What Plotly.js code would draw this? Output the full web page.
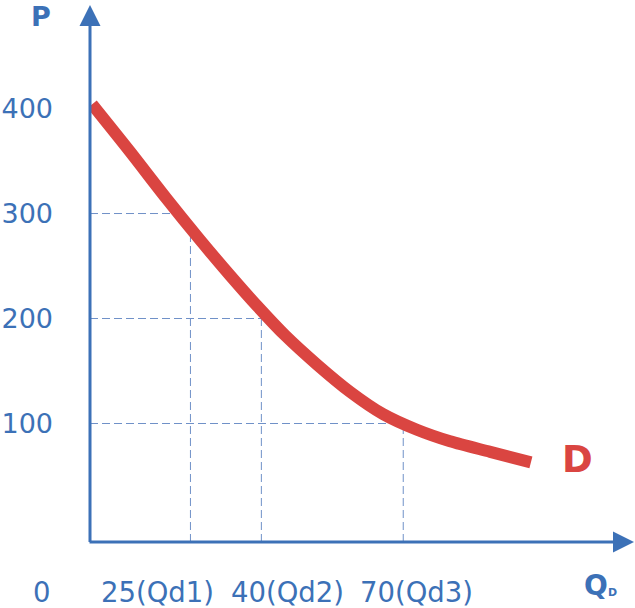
<!DOCTYPE html>
<html>
<head>
<meta charset="utf-8">
<script src="https://cdn.plot.ly/plotly-3.0.1.min.js"></script>
<style>html,body{margin:0;padding:0;background:#fff;}#chart{width:635px;height:608px;}</style>
</head>
<body>
<div id="chart"></div>
<script>
// Demand curve D (Q = quantity demanded, P = price)
var curveQ = [4.2, 12.2, 19.8, 27.0, 33.4, 39.1, 45.0, 51.8, 58.8, 65.7, 72.9, 79.9, 88.4, 97.0];
var curveP = [404, 359, 315, 275, 241, 212, 184, 156, 130, 109, 94, 83, 73, 63];

// Marked price / quantity pairs
var markP = [300, 200, 100];
var markQ = [25, 40, 70];
var markNames = ['Qd1', 'Qd2', 'Qd3'];

// Axis tick labels
var yTickVals = [100, 200, 300, 400];
var yTickText = ['100', '200', '300', '400'];
var originLabel = '0';
var curveLabel = 'D';
var yTitle = 'P';
var xTitle = 'Q';
var xTitleSub = 'D';

var BLUE = '#3c71b7';
var RED = '#da4541';
var DASH = 'rgb(112,145,200)';
var FONT = 'DejaVu Sans, Verdana, sans-serif';

// linear interpolation on the curve (for where the guide lines meet it)
function pAtQ(q) {
  for (var i = 0; i < curveQ.length - 1; i++) {
    if (q >= curveQ[i] && q <= curveQ[i + 1]) {
      var t = (q - curveQ[i]) / (curveQ[i + 1] - curveQ[i]);
      return curveP[i] + t * (curveP[i + 1] - curveP[i]);
    }
  }
  return curveP[curveP.length - 1];
}
function qAtP(p) {
  for (var i = 0; i < curveP.length - 1; i++) {
    if (p <= curveP[i] && p >= curveP[i + 1]) {
      var t = (curveP[i] - p) / (curveP[i] - curveP[i + 1]);
      return curveQ[i] + t * (curveQ[i + 1] - curveQ[i]);
    }
  }
  return curveQ[curveQ.length - 1];
}

var xRange = [3.76, 118.8];
var yRange = [-12.86, 498.6];

var traces = [];
for (var i = 0; i < markP.length; i++) {
  traces.push({
    x: [xRange[0], qAtP(markP[i])], y: [markP[i], markP[i]],
    mode: 'lines', line: {color: DASH, width: 1, dash: '8px,4px'},
    hoverinfo: 'skip', showlegend: false
  });
  traces.push({
    x: [markQ[i], markQ[i]], y: [yRange[0], pAtQ(markQ[i])],
    mode: 'lines', line: {color: DASH, width: 1, dash: '8px,4px'},
    hoverinfo: 'skip', showlegend: false
  });
}
traces.push({
  x: curveQ, y: curveP, mode: 'lines',
  line: {color: RED, width: 12, shape: 'spline', smoothing: 0.8},
  hoverinfo: 'skip', showlegend: false
});

var L = 90, R = 1, T = 5, B = 66, W = 635, H = 608;
var pw = W - L - R, ph = H - T - B;
function px(x) { return (x - L) / pw; }
function py(y) { return (H - B - y) / ph; }

var annotations = [];
// axes with arrows
annotations.push({xref: 'paper', yref: 'paper', x: 0, y: 1, ax: 0, ay: ph + 1.5, axref: 'pixel', ayref: 'pixel',
  text: '', showarrow: true, arrowhead: 2, arrowsize: 1.4, arrowwidth: 3, arrowcolor: BLUE, standoff: 0});
annotations.push({xref: 'paper', yref: 'paper', x: 1, y: 0, ax: -(pw + 2), ay: 0, axref: 'pixel', ayref: 'pixel',
  text: '', showarrow: true, arrowhead: 2, arrowsize: 1.4, arrowwidth: 3, arrowcolor: BLUE, standoff: 0});

// x labels
var xLabelLeft = [99, 229, 358];
for (var j = 0; j < markQ.length; j++) {
  annotations.push({xref: 'paper', yref: 'paper', x: px(xLabelLeft[j]), y: py(592), xanchor: 'left', yanchor: 'middle',
    text: markQ[j] + '(' + markNames[j] + ')', showarrow: false, font: {family: FONT, size: 27.5, color: BLUE}});
}
annotations.push({xref: 'paper', yref: 'paper', x: px(42), y: py(592), xanchor: 'center', yanchor: 'middle',
  text: originLabel, showarrow: false, font: {family: FONT, size: 27.5, color: BLUE}});
annotations.push({xref: 'paper', yref: 'paper', x: px(41), y: py(17), xanchor: 'center', yanchor: 'middle',
  text: '<b>' + yTitle + '</b>', showarrow: false, font: {family: FONT, size: 27, color: BLUE}});
annotations.push({xref: 'paper', yref: 'paper', x: px(596), y: py(585), xanchor: 'center', yanchor: 'middle',
  text: '<b>' + xTitle + '</b>', showarrow: false, font: {family: FONT, size: 28, color: BLUE}});
annotations.push({xref: 'paper', yref: 'paper', x: px(612), y: py(592), xanchor: 'center', yanchor: 'middle',
  text: '<b>' + xTitleSub + '</b>', showarrow: false, font: {family: FONT, size: 11, color: BLUE}});
annotations.push({xref: 'paper', yref: 'paper', x: px(577), y: py(459), xanchor: 'center', yanchor: 'middle',
  text: '<b>' + curveLabel + '</b>', showarrow: false, font: {family: FONT, size: 37, color: RED}});

var layout = {
  width: W, height: H,
  margin: {l: L, r: R, t: T, b: B, pad: 0},
  paper_bgcolor: '#ffffff', plot_bgcolor: '#ffffff',
  showlegend: false,
  xaxis: {range: xRange, showgrid: false, zeroline: false, showline: false, showticklabels: false, ticks: '', fixedrange: true},
  yaxis: {range: yRange, showgrid: false, zeroline: false, showline: false, ticks: '',
    tickvals: yTickVals, ticktext: yTickText, ticklabelstandoff: 36,
    tickfont: {family: FONT, size: 27, color: BLUE}, fixedrange: true},
  annotations: annotations
};

Plotly.newPlot('chart', traces, layout, {displayModeBar: false, staticPlot: true});
</script>
</body>
</html>
